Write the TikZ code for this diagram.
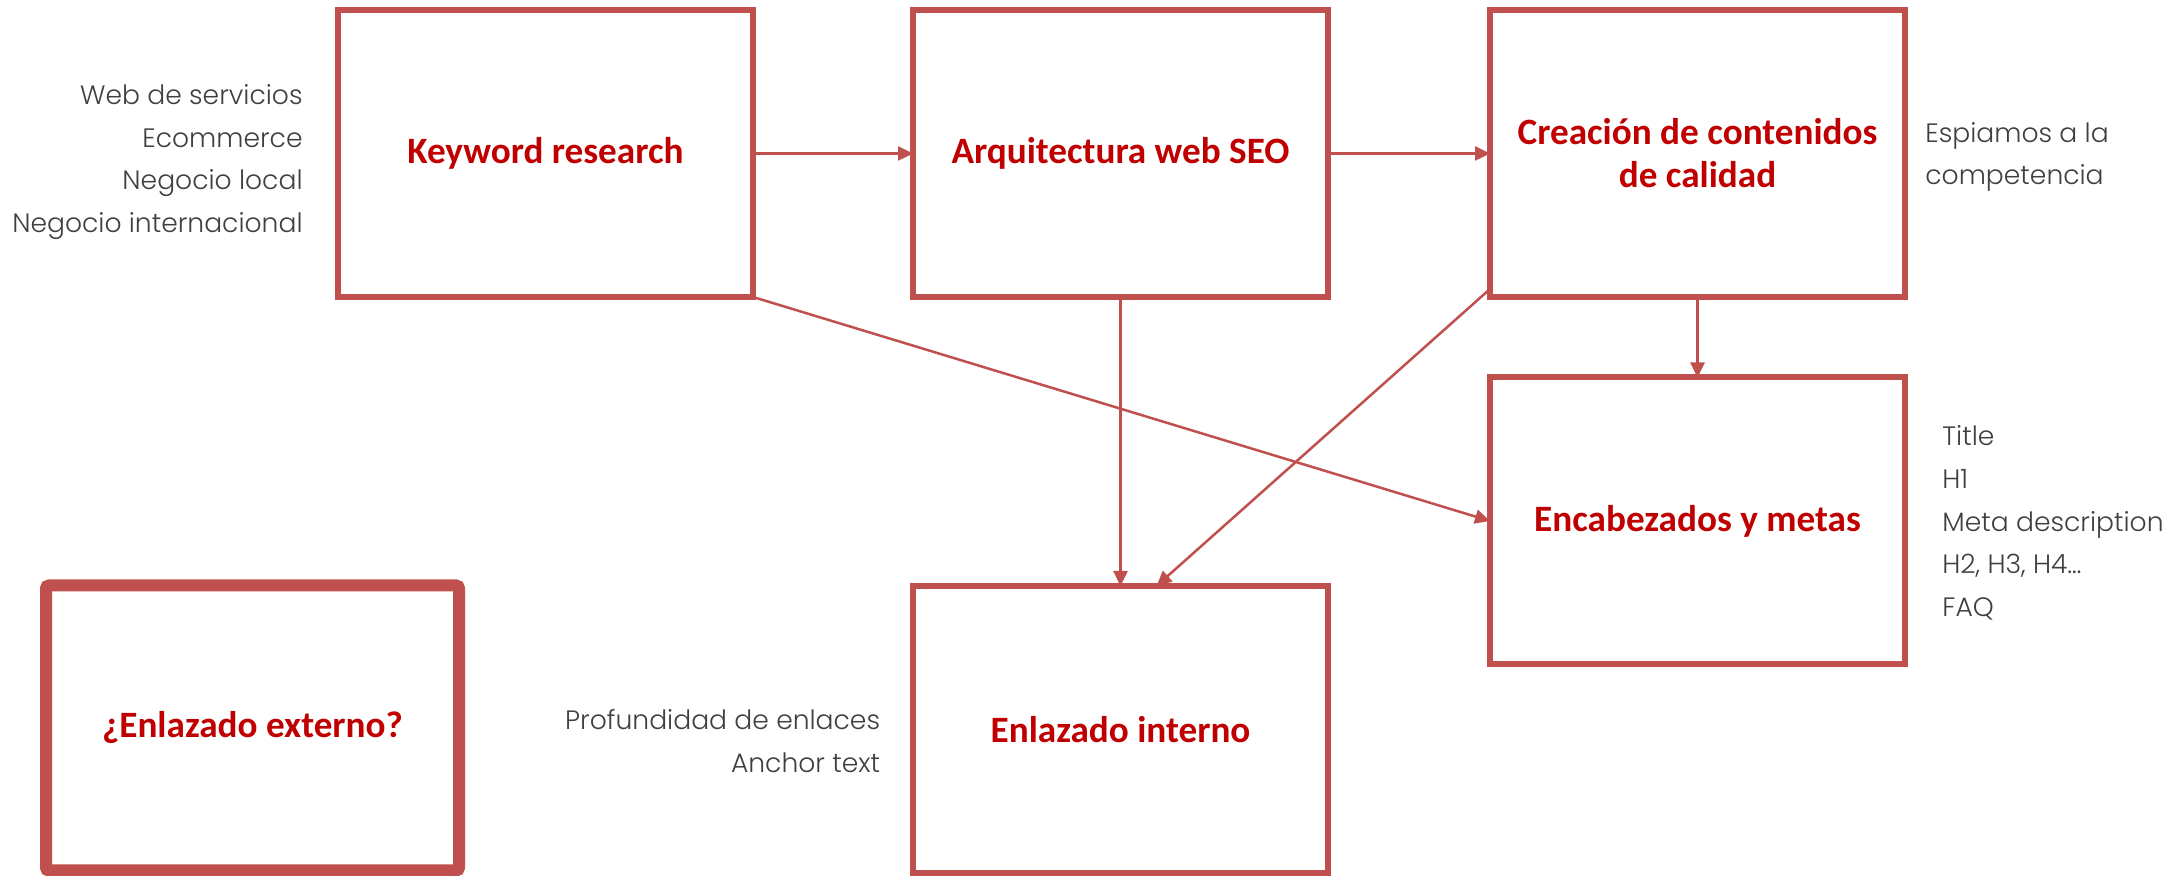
\documentclass[tikz,border=0pt]{standalone}
\usepackage{fontspec}
\setmainfont{Carlito}
\newfontfamily\sidefont{Poppins Light}
\usetikzlibrary{arrows.meta}
\definecolor{boxred}{HTML}{C0504D}
\definecolor{titlered}{HTML}{C00000}
\definecolor{notegray}{HTML}{404040}

\begin{document}
\begin{tikzpicture}[x=0.5pt,y=-0.5pt,
  stepbox/.style={draw=boxred, line width=3pt, fill=white, inner sep=0pt, outer sep=0pt,
    minimum width=207.5pt, minimum height=143.5pt, align=center,
    text=titlered, font=\fontsize{18.6}{21.5}\selectfont\bfseries},
  bigbox/.style={stepbox, line width=6pt, rounded corners=1.5pt,
    minimum width=206.5pt, minimum height=142.5pt},
  note/.style={inner sep=0pt, text=notegray, font=\sidefont\fontsize{13.3}{21.4}\selectfont},
  link/.style={draw=boxred, line width=1.25pt, -{Triangle[length=7.5pt,width=7pt]}}]

  % canvas
  \path[use as bounding box, fill=white] (0,0) rectangle (2181,876);

  % process boxes
  \node[stepbox] (kw)  at (545.5,153.5)  {Keyword research};
  \node[stepbox] (arq) at (1120.5,153.5) {Arquitectura web SEO};
  \node[stepbox] (cre) at (1697.5,153.5) {Creación de contenidos\\de calidad};
  \node[stepbox] (enc) at (1697.5,521)   {Encabezados y metas};
  \node[stepbox] (lin) at (1120.5,729.5) {Enlazado interno};
  \node[bigbox]  (ext) at (252.5,728)    {¿Enlazado externo?};

  % side notes
  \node[note, anchor=east, align=right] (kwnote) at (303,162)
    {Web de servicios\\Ecommerce\\Negocio local\\Negocio internacional};
  \node[note, anchor=west, align=left] (crenote) at (1925,157)
    {Espiamos a la\\competencia};
  \node[note, anchor=west, align=left] (encnote) at (1942,523)
    {Title\\H1\\Meta description\\H2, H3, H4…\\FAQ};
  \node[note, anchor=east, align=right] (linnote) at (880.5,741)
    {Profundidad de enlaces\\Anchor text};

  % connector end points off the anchors
  \coordinate (crefoot) at ([yshift=4pt]cre.south west);
  \coordinate (linin)   at ([xshift=18pt]lin.north);

  % connectors
  \draw[link] (kw.east) -- (arq.west);
  \draw[link] (arq.east) -- (cre.west);
  \draw[link] (cre.south) -- (enc.north);
  \draw[link] (arq.south) -- (lin.north);
  \draw[link] (crefoot) -- (linin);
  \draw[link] (kw.south east) -- (enc.west);
\end{tikzpicture}
\end{document}
